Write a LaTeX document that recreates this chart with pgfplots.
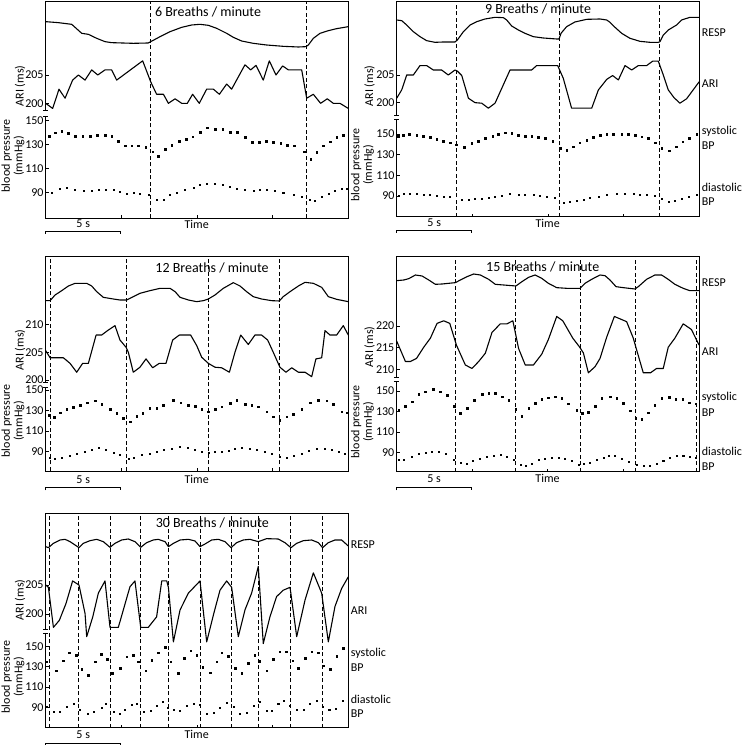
\documentclass[border=0pt]{standalone}
\usepackage{fontspec}
\setmainfont{Carlito}
\usepackage{pgfplots}
\pgfplotsset{compat=1.18}
\pgfplotsset{
  base/.style={scale only axis, width=302.6pt, anchor=north west, xmin=0, xmax=20, clip=false},
  frame/.style={base, ymin=0, ymax=1, ytick=\empty, xtick={5,10,15}, xticklabels={}, xtick pos=left,
    tick align=inside, major tick length=3pt, axis line style={line width=0.9pt},
    every tick/.style={black, line width=0.9pt}},
  resp/.style={base, hide axis},
  band/.style={base, hide x axis, axis line style={draw=none}, ytick pos=left, tick align=inside,
    major tick length=3pt, every tick/.style={black, line width=0.9pt},
    yticklabel style={font=\fontsize{12}{12}\selectfont, inner sep=2pt},
    /pgf/number format/assume math mode=true},
  curve/.style={black, line width=1.1pt, line join=round, no marks},
  sys/.style={black, only marks, mark=square*, mark size=0.75pt},
  dia/.style={black, only marks, mark=square*, mark size=0.55pt},
  dl/.style={black, line width=1pt, dash pattern=on 4pt off 2.5pt, no marks},
}
\tikzset{
  lab/.style={font=\fontsize{12}{13}\selectfont, inner sep=0pt},
  ttl/.style={font=\fontsize{14}{16}\selectfont, inner sep=0pt},
  bp/.style={font=\fontsize{12}{12.5}\selectfont, inner sep=0pt, rotate=90, align=center},
}
\begin{document}
\begin{tikzpicture}[x=1pt,y=1pt]
\useasboundingbox (0,0) rectangle (744,745);

% ================= Panel 1: 6 breaths/min =================
\begin{axis}[frame, at={(45.7pt,744pt)}, height=217.3pt]
\addplot[dl] coordinates {(6.94,0)(6.94,1)};
\addplot[dl] coordinates {(17.25,0)(17.25,1)};
\end{axis}
\begin{axis}[resp, at={(45.7pt,744pt)}, height=217.3pt, ymin=-454.9, ymax=197]
\addplot[curve] coordinates {(0,135)(0.84,132)(1.72,127)(2.38,100)(2.82,97)(3.37,85)(3.92,75)(4.36,72)(5.79,70)(6.78,71)(6.94,75)(7.56,90)(8.22,105)(8.99,118)(9.65,125)(10.20,127)(10.75,124)(11.30,115)(11.96,100)(12.40,88)(12.95,77)(13.72,70)(14.60,65)(15.70,61)(16.70,59)(17.20,60)(17.36,65)(17.69,85)(18.13,100)(18.68,108)(19.23,114)(20,120)};
\end{axis}
\begin{axis}[band, at={(45.7pt,744pt)}, height=217.3pt, ymin=179.71, ymax=218.06, ytick={200,205}]
\addplot[curve] coordinates {(0,200.0)(0.46,199.1)(0.88,202.5)(1.28,200.9)(1.78,204.1)(2.16,205.0)(2.60,204.1)(3.04,205.9)(3.44,205.0)(3.92,205.9)(4.36,205.9)(4.69,204.1)(6.41,207.5)(6.94,203.8)(7.33,201.6)(7.78,201.6)(8.11,200.0)(8.55,200.8)(8.99,200.0)(9.36,200.0)(9.71,201.6)(10.15,200.0)(10.64,202.5)(11.08,202.5)(11.48,201.6)(11.96,203.4)(12.29,202.5)(12.80,205.0)(13.17,206.8)(13.55,205.9)(13.90,206.7)(14.38,204.1)(14.78,207.5)(15.22,205.0)(15.66,206.6)(16.04,205.9)(16.92,205.9)(17.25,200.9)(17.69,201.6)(18.17,200.0)(18.61,200.8)(19.01,200.0)(19.45,200.0)(20,199.1)};
\end{axis}
\begin{axis}[band, at={(45.7pt,744pt)}, height=217.3pt, ymin=68.67, ymax=249.75, ytick={90,110,130,150}]
\addplot[sys] coordinates {(0.24,137.2)(0.62,140.0)(1.06,141.4)(1.50,139.4)(1.94,137.2)(2.44,137.2)(2.93,137.2)(3.41,138.1)(3.92,138.1)(4.36,137.2)(4.80,133.1)(5.24,129.2)(5.68,129.2)(6.12,129.2)(6.61,127.8)(7.07,124.2)(7.44,120.6)(7.89,126.4)(8.33,129.7)(8.83,133.1)(9.27,134.7)(9.71,136.7)(10.20,140.3)(10.68,144.2)(11.19,143.1)(11.70,143.1)(12.18,140.3)(12.67,140.3)(13.17,136.1)(13.66,131.9)(14.12,131.9)(14.56,133.1)(15.04,131.9)(15.53,131.1)(15.97,129.7)(16.41,129.2)(17.07,124.2)(17.51,117.8)(17.91,123.6)(18.35,129.2)(18.79,132.5)(19.23,136.1)(19.67,138.1)};
\addplot[dia] coordinates {(0.40,90)(0.95,93.6)(1.39,94.2)(1.94,92.8)(2.49,91.7)(3.04,91.7)(3.48,92.8)(3.99,92.8)(4.47,92.2)(4.91,90.8)(5.35,89.4)(5.79,90)(6.23,88.9)(6.78,88.1)(7.33,84.4)(7.78,84.4)(8.22,88.1)(8.66,90)(9.21,92.2)(9.76,94.4)(10.20,96.4)(10.64,97.8)(11.19,97.8)(11.70,96.9)(12.18,95)(12.62,93.3)(13.17,92.2)(13.72,91.7)(14.16,92.2)(14.60,92.2)(15.15,91.4)(15.70,90)(16.37,88.1)(16.92,86.7)(17.42,84.4)(17.80,83.3)(18.24,86.7)(18.68,89.4)(19.12,91.7)(19.56,93.1)(19.89,93.6)};
\end{axis}

% ================= Panel 2: 9 breaths/min =================
\begin{axis}[frame, at={(396.7pt,744pt)}, height=215.7pt]
\addplot[dl] coordinates {(3.92,0)(3.92,1)};
\addplot[dl] coordinates {(10.73,0)(10.73,1)};
\addplot[dl] coordinates {(17.36,0)(17.36,1)};
\end{axis}
\begin{axis}[resp, at={(396.7pt,744pt)}, height=215.7pt, ymin=-450.1, ymax=197]
\addplot[curve] coordinates {(0,140)(0.33,138)(0.66,125)(1.10,105)(1.54,90)(1.98,78)(2.53,73)(3.08,74)(3.85,74)(4.01,80)(4.41,105)(4.85,125)(5.29,135)(5.84,143)(6.50,148)(7.05,147)(7.27,140)(7.60,122)(8.04,110)(8.48,100)(9.03,90)(9.69,86)(10.57,83)(10.73,83)(10.86,100)(11.23,120)(11.78,134)(12.56,142)(13.44,143)(13.88,140)(14.10,133)(14.43,118)(14.87,100)(15.42,85)(16.08,76)(16.74,73)(17.29,73)(17.40,75)(17.62,95)(17.95,110)(18.50,125)(18.83,140)(19.38,148)(20,148)};
\end{axis}
\begin{axis}[band, at={(396.7pt,744pt)}, height=215.7pt, ymin=179.39, ymax=218.37, ytick={200,205}]
\addplot[curve] coordinates {(0,200.8)(0.33,202.3)(0.66,205)(1.10,205)(1.54,206.7)(1.98,206.7)(2.42,205.9)(2.97,205.9)(3.41,205)(3.85,205.9)(4.01,205.7)(4.30,204.9)(4.74,200.8)(5.18,200)(5.62,199.9)(6.06,199)(6.50,199.9)(7.49,205.9)(7.93,205.9)(8.48,205.9)(8.92,205.9)(9.25,206.7)(9.80,206.7)(10.64,206.7)(11.01,204.4)(11.56,199)(12.00,199)(12.89,199)(13.33,202.3)(13.88,204.2)(14.27,204.9)(14.65,204.1)(15.09,206.7)(15.53,205.9)(15.97,206.7)(16.52,206.7)(16.92,207.5)(17.29,207.5)(17.62,205)(17.95,202.3)(18.33,200.9)(18.72,199.9)(19.16,200.7)(20,203.8)};
\end{axis}
\begin{axis}[band, at={(396.7pt,744pt)}, height=215.7pt, ymin=69.97, ymax=278.7, ytick={90,110,130,150}]
\addplot[sys] coordinates {(0.11,148.1)(0.44,149)(0.84,150)(1.32,149)(1.76,148.1)(2.20,146.8)(2.64,144.8)(3.08,143.2)(3.52,141.6)(3.92,139.4)(4.47,137.1)(4.96,141)(5.40,143.2)(5.84,145.8)(6.34,148.1)(6.72,150)(7.16,151.3)(7.60,150.6)(8.04,149)(8.48,148.1)(8.92,148.1)(9.36,146.8)(9.80,145.8)(10.31,143.2)(10.79,136.1)(11.23,134.5)(11.67,137.7)(12.11,141.6)(12.56,144.2)(13.00,146.8)(13.44,149)(13.88,150)(14.32,149.7)(14.87,149.7)(15.31,149.7)(15.75,149)(16.19,147.4)(16.63,145.8)(17.07,141.6)(17.51,136.1)(18.02,133.9)(18.46,137.7)(18.90,142.6)(19.34,145.8)(19.82,150)};
\addplot[dia] coordinates {(0.11,90)(0.44,92.6)(0.88,92.6)(1.32,91.9)(1.76,91)(2.20,91)(2.64,90)(3.08,89.4)(3.52,89.4)(4.30,86.1)(4.74,86.8)(5.18,87.1)(5.62,87.7)(6.06,88.7)(6.50,89.4)(6.94,90.3)(7.49,91.9)(8.04,91)(8.48,91.6)(9.03,91)(9.47,90)(9.91,89.4)(10.46,88.7)(11.01,83.5)(11.45,84.5)(11.89,85.5)(12.33,86.8)(12.78,88.4)(13.33,89.4)(13.88,91)(14.54,91.9)(15.09,92.6)(15.64,91.9)(16.08,91.6)(16.52,91)(17.07,90)(17.51,87.7)(17.95,84.5)(18.39,85.2)(18.83,87.7)(19.27,89.4)(19.82,91.6)};
\end{axis}

% ================= Panel 3: 12 breaths/min =================
\begin{axis}[frame, at={(45.7pt,488.3pt)}, height=214.3pt]
\addplot[dl] coordinates {(0.29,0)(0.29,1)};
\addplot[dl] coordinates {(5.35,0)(5.35,1)};
\addplot[dl] coordinates {(10.75,0)(10.75,1)};
\addplot[dl] coordinates {(15.44,0)(15.44,1)};
\end{axis}
\begin{axis}[resp, at={(45.7pt,488.3pt)}, height=214.3pt, ymin=-463, ymax=179.9]
\addplot[curve] coordinates {(0,48)(0.29,48)(0.62,65)(1.06,78)(1.50,92)(1.94,100)(2.71,100)(3.04,92)(3.37,75)(3.81,58)(4.47,53)(4.91,50)(5.35,50)(5.79,60)(6.23,70)(6.89,78)(7.56,85)(8.22,85)(8.55,75)(8.88,58)(9.43,50)(9.98,45)(10.42,48)(10.75,53)(11.19,65)(11.74,85)(12.40,102)(12.84,92)(13.28,75)(13.72,60)(14.27,53)(14.93,48)(15.44,47)(15.70,60)(16.15,75)(16.70,92)(17.14,103)(17.69,100)(18.24,88)(18.68,60)(19.23,52)(20,45)};
\end{axis}
\begin{axis}[band, at={(45.7pt,488.3pt)}, height=214.3pt, ymin=183.6, ymax=222.22, ytick={200,205,210}]
\addplot[curve] coordinates {(0,205.3)(0.29,204.0)(0.84,204.0)(1.17,204.0)(1.61,203.0)(2.05,201.4)(2.44,203.0)(2.82,203.0)(3.33,208.1)(3.70,208.1)(4.14,209.0)(4.58,209.8)(4.91,207.2)(5.31,205.9)(5.46,205.0)(5.79,201.4)(6.23,202.3)(6.63,203.8)(7.07,202.2)(7.51,203.0)(7.95,203.0)(8.39,207.2)(8.83,208.1)(9.58,208.1)(9.98,206.2)(10.31,204.1)(10.75,203.0)(11.19,202.3)(11.63,202.2)(12.14,201.4)(12.51,205.0)(12.89,208.1)(13.39,206.4)(13.83,208.1)(14.27,208.1)(14.67,207.2)(15.04,205.0)(15.48,202.3)(15.88,201.4)(16.26,202.2)(16.70,201.4)(17.14,201.4)(17.58,200.6)(17.86,203.8)(18.24,204.0)(18.46,208.9)(18.79,208.1)(19.23,208.1)(19.67,209.8)(20,208.1)};
\end{axis}
\begin{axis}[band, at={(45.7pt,488.3pt)}, height=214.3pt, ymin=71.21, ymax=279.67, ytick={90,110,130,150}]
\addplot[sys] coordinates {(0.24,125.7)(0.55,123.4)(0.95,127.9)(1.39,131.2)(1.83,133.2)(2.27,135.4)(2.75,137.7)(3.26,139.6)(3.70,136.4)(4.25,131.2)(4.69,127.3)(5.13,122.4)(5.57,119.2)(6.01,124.7)(6.41,127.3)(6.89,132.2)(7.33,132.2)(7.78,135.4)(8.44,140.3)(8.92,137.7)(9.43,135.4)(9.87,134.4)(10.31,131.2)(10.75,128.9)(11.19,131.2)(11.63,133.8)(12.18,137.1)(12.62,140.3)(13.17,136.4)(13.61,135.4)(14.05,133.8)(14.60,128.9)(15.04,124)(15.48,120.8)(15.92,124)(16.37,126.7)(16.92,131.2)(17.47,137.7)(18.02,140.3)(18.57,139.6)(19.01,136.4)(19.56,128.9)(19.89,127.9)};
\addplot[dia] coordinates {(0.24,84.5)(0.62,83.5)(1.06,84.5)(1.61,85.8)(2.05,87.7)(2.60,90)(3.04,92.3)(3.48,94.3)(3.99,92.3)(4.47,89)(4.91,86.8)(5.46,83.5)(5.84,84.5)(6.34,86.8)(6.85,88.4)(7.33,90)(7.82,91.6)(8.33,93.3)(8.88,94.8)(9.36,94.3)(9.87,92.3)(10.31,90)(10.75,89)(11.19,90)(11.63,90)(12.07,90.7)(12.51,93.3)(12.95,94.3)(13.50,93.3)(13.94,92.3)(14.49,90)(14.93,87.7)(15.48,85.1)(15.92,84.5)(16.37,85.8)(16.92,88.4)(17.36,90.7)(17.91,92.6)(18.46,93.3)(18.90,92.3)(19.34,90)(19.78,87.7)};
\end{axis}

% ================= Panel 4: 15 breaths/min =================
\begin{axis}[frame, at={(396.5pt,489pt)}, height=215.7pt]
\addplot[dl] coordinates {(3.89,0)(3.89,1)};
\addplot[dl] coordinates {(7.89,0)(7.89,1)};
\addplot[dl] coordinates {(12.13,0)(12.13,1)};
\addplot[dl] coordinates {(15.82,0)(15.82,1)};
\addplot[dl] coordinates {(19.82,0)(19.82,1)};
\end{axis}
\begin{axis}[resp, at={(396.5pt,489pt)}, height=215.7pt, ymin=-465.1, ymax=182]
\addplot[curve] coordinates {(0,108)(0.48,110)(0.81,114)(1.25,125)(1.69,122)(2.13,110)(2.57,97)(3.01,98)(3.45,100)(3.89,102)(4.22,110)(4.66,120)(5.10,128)(5.54,125)(6.09,112)(6.53,97)(7.08,95)(7.89,92)(8.29,105)(8.73,118)(9.16,125)(9.60,115)(10.04,100)(10.59,87)(11.25,85)(12.13,85)(12.46,100)(12.90,112)(13.45,125)(13.78,123)(14.11,110)(14.51,90)(14.99,87)(15.76,83)(15.98,90)(16.53,112)(17.08,125)(17.52,125)(17.96,112)(18.40,97)(18.95,85)(19.38,78)(20,78)};
\end{axis}
\begin{axis}[band, at={(396.5pt,489pt)}, height=215.7pt, ymin=186.38, ymax=236.15, ytick={210,215,220}]
\addplot[curve] coordinates {(0,216.6)(0.26,214.5)(0.59,211.8)(0.92,211.8)(1.32,212.5)(1.80,215.1)(2.24,217.2)(2.68,220.6)(3.12,221.2)(3.52,220.6)(3.96,215.6)(4.55,211)(4.99,210.2)(5.43,211.8)(5.87,213.7)(6.31,218.5)(6.86,220.5)(7.30,220.5)(7.69,221.2)(8.07,214.8)(8.51,211)(9.05,211)(9.60,213.5)(10.04,216.9)(10.59,222.2)(10.99,221.2)(11.65,217.2)(12.09,215.2)(12.35,213.8)(12.68,209.2)(13.12,210.6)(13.45,212.5)(13.89,217.4)(14.40,222.2)(15.21,221)(15.65,217.2)(15.87,214.5)(16.31,209.2)(16.79,209.2)(17.19,210.2)(17.63,210.2)(17.96,215.1)(18.40,217.2)(18.95,220.5)(19.49,219.2)(20,215.6)};
\end{axis}
\begin{axis}[band, at={(396.5pt,489pt)}, height=215.7pt, ymin=71.48, ymax=281.35, ytick={90,110,130,150}]
\addplot[sys] coordinates {(0.15,131.5)(0.59,135.4)(1.03,139.6)(1.47,146.8)(1.91,149.4)(2.42,151.6)(2.90,149.4)(3.34,146.1)(3.82,135.4)(4.22,128.3)(4.66,133.1)(5.14,141.2)(5.65,147.1)(6.09,147.7)(6.53,147.7)(6.97,144.5)(7.41,141.2)(7.89,132.2)(8.29,125.7)(8.73,133.1)(9.16,138)(9.60,141.9)(10.04,143.5)(10.48,144.5)(10.92,142.9)(11.36,137.4)(11.91,131.5)(12.29,128.3)(12.68,129.2)(13.12,135.4)(13.56,142.9)(14.11,144.5)(14.55,142.9)(14.99,138)(15.43,130.9)(15.82,123.4)(16.20,122.4)(16.64,128.9)(17.08,136.4)(17.52,142.9)(18.02,143.8)(18.46,141.9)(18.90,141.9)(19.34,138.6)(19.78,137.4)};
\addplot[dia] coordinates {(0.15,82.9)(0.48,83.5)(1.03,86.1)(1.47,88.7)(1.91,90)(2.35,91)(2.79,91)(3.23,89.4)(3.78,83.5)(4.22,80.3)(4.66,79.6)(5.05,82.2)(5.49,84.5)(5.98,86.1)(6.42,86.8)(6.86,87.7)(7.30,86.1)(7.74,83.5)(8.18,78)(8.51,77.4)(8.95,79.6)(9.38,82.9)(9.82,84.5)(10.26,85.5)(10.70,85.5)(11.14,84.5)(11.58,82.2)(12.02,78)(12.40,79)(12.79,80.3)(13.23,82.9)(13.67,85.5)(14.00,87.1)(14.44,86.8)(14.88,84.5)(15.32,81.2)(15.87,78)(16.31,77)(16.75,77.4)(17.19,79.6)(17.63,82.2)(18.07,85.5)(18.51,86.8)(18.95,86.8)(19.38,86.1)(19.78,85.5)};
\end{axis}

% ================= Panel 5: 30 breaths/min =================
\begin{axis}[frame, at={(45.7pt,231.7pt)}, height=214.4pt]
\addplot[dl] coordinates {(0.22,0)(0.22,1)};
\addplot[dl] coordinates {(2.20,0)(2.20,1)};
\addplot[dl] coordinates {(4.25,0)(4.25,1)};
\addplot[dl] coordinates {(6.28,0)(6.28,1)};
\addplot[dl] coordinates {(8.11,0)(8.11,1)};
\addplot[dl] coordinates {(10.20,0)(10.20,1)};
\addplot[dl] coordinates {(12.25,0)(12.25,1)};
\addplot[dl] coordinates {(14.05,0)(14.05,1)};
\addplot[dl] coordinates {(16.21,0)(16.21,1)};
\addplot[dl] coordinates {(18.30,0)(18.30,1)};
\end{axis}
\begin{axis}[resp, at={(45.7pt,231.7pt)}, height=214.4pt, ymin=-483.1, ymax=160.1]
\addplot[curve] coordinates {(0,60)(0.18,57)(0.51,70)(0.95,80)(1.28,82)(1.61,75)(1.94,65)(2.20,57)(2.49,70)(2.93,78)(3.37,82)(3.81,75)(4.25,58)(4.58,70)(5.02,80)(5.46,83)(5.90,75)(6.28,58)(6.67,72)(7.11,80)(7.44,82)(7.89,75)(8.11,60)(8.44,70)(8.88,80)(9.43,82)(9.87,77)(10.20,60)(10.53,68)(10.97,80)(11.41,82)(11.85,75)(12.25,57)(12.62,72)(13.06,80)(13.50,82)(14.05,75)(14.60,84)(15.37,83)(15.81,72)(16.21,57)(16.59,70)(17.03,78)(17.58,80)(18.02,72)(18.30,57)(18.68,72)(19.12,80)(19.56,80)(20,62)};
\end{axis}
\begin{axis}[band, at={(45.7pt,231.7pt)}, height=214.4pt, ymin=180.4, ymax=217.36, ytick={200,205}]
\addplot[curve] coordinates {(0,205)(0.18,204.6)(0.51,197.7)(0.90,198.9)(1.34,201.8)(1.78,205.7)(2.20,205)(2.60,200.1)(2.71,196.1)(3.11,199.5)(3.48,203.6)(3.92,205.7)(4.25,197.7)(4.80,197.7)(5.13,200.7)(5.57,204.7)(5.90,205.7)(6.28,197.7)(6.78,197.7)(7.33,199.5)(7.67,205.7)(8.00,205.7)(8.11,204.6)(8.44,195.2)(8.88,200.7)(9.43,203.6)(10.20,205.7)(10.64,195.2)(11.08,199.8)(11.52,204.1)(11.96,205.7)(12.29,204.6)(12.73,196.1)(13.17,200.7)(13.61,203.6)(14.05,208.2)(14.38,194.9)(14.82,199.5)(15.26,203)(15.70,204.1)(16.15,204.6)(16.59,196.1)(17.14,202.4)(17.69,207.1)(18.24,203.6)(18.68,195.2)(19.12,201.3)(19.56,204.4)(20,206.4)};
\end{axis}
\begin{axis}[band, at={(45.7pt,231.7pt)}, height=214.4pt, ymin=69.89, ymax=281.93, ytick={90,110,130,150}]
\addplot[sys] coordinates {(0.07,135.2)(0.68,126.3)(1.17,136.2)(1.56,144.1)(2.00,141.8)(2.38,127.6)(2.82,122)(3.26,135.2)(3.66,142.4)(4.07,137.5)(4.41,123.6)(4.91,128.6)(5.35,140.1)(5.79,141.8)(6.12,135.2)(6.61,126.3)(7.00,136.8)(7.44,144.1)(7.89,149.3)(8.26,135.2)(8.77,123.6)(9.14,138.5)(9.58,146)(9.98,141.8)(10.37,129.6)(10.86,124.3)(11.30,135.2)(11.63,144.1)(12.07,140.8)(12.51,128.6)(12.95,123.6)(13.39,133.5)(13.83,141.8)(14.16,135.8)(14.60,126.3)(15.04,137.5)(15.48,145.1)(15.88,145.1)(16.32,136.2)(16.70,128.6)(17.14,138.5)(17.58,145.1)(18.02,144.1)(18.35,131.2)(18.79,127.6)(19.23,140.8)(19.67,148.4)};
\addplot[dia] coordinates {(0.07,90.7)(0.51,85.7)(0.95,85.7)(1.39,90.7)(1.83,93.3)(2.27,87.4)(2.75,84.1)(3.15,85.7)(3.70,90)(3.99,94)(4.47,85.7)(4.87,84.1)(5.24,88)(5.68,92.3)(6.01,93.3)(6.50,85.7)(6.94,86.7)(7.33,91.3)(7.71,95.6)(8.04,90)(8.44,87.4)(8.88,86.7)(9.32,91.3)(9.76,94)(10.15,92.3)(10.64,84.1)(11.08,84.7)(11.52,90)(11.96,94.6)(12.40,90.7)(12.84,84.1)(13.28,84.7)(13.72,91.3)(14.16,95.6)(14.60,86.7)(14.93,86.7)(15.37,93.3)(15.75,96.6)(16.15,91.3)(16.59,88)(17.03,87.4)(17.47,94)(17.91,96.6)(18.30,90.7)(18.74,87.4)(19.19,89)(19.63,96.6)};
\end{axis}

% ================= axis breaks =================
\foreach \lx/\ya/\yb in {45.7/635/629, 396.7/629.5/626, 45.7/362.3/357.7, 396.5/367.5/363.5, 45.7/115.5/112}{
  \fill[white] (\lx-1.3,\yb+0.45) rectangle (\lx+1.3,\ya-0.45);
  \draw[line width=0.9pt] (\lx-2.6,\ya) -- (\lx+2.6,\ya);
  \draw[line width=0.9pt] (\lx-2.6,\yb) -- (\lx+2.6,\yb);
}

% ================= scale bars, Time labels =================
\foreach \lx/\by/\ty in {45.7/514/521, 396.7/515/522, 45.7/257.7/265.7, 396.5/257.7/266.3, 45.7/1.7/10.7}{
  \draw[line width=0.9pt] (\lx,\by-3) -- (\lx,\by) -- (\lx+75,\by) -- (\lx+75,\by-3);
  \node[lab] at (\lx+37.5,\ty) {5 s};
  \node[lab] at (\lx+151,\ty) {Time};
}

% ================= titles =================
\node[ttl] at (208,733) {6 Breaths / minute};
\node[ttl] at (538,736) {9 Breaths / minute};
\node[ttl] at (212,476.7) {12 Breaths / minute};
\node[ttl] at (542.7,478.3) {15 Breaths / minute};
\node[ttl] at (212.3,221.7) {30 Breaths / minute};

% ================= left y labels =================
\node[lab, rotate=90] at (20,659) {ARI (ms)};
\node[bp] at (13,589) {blood pressure\\(mmHg)};
\node[lab, rotate=90] at (369.5,659) {ARI (ms)};
\node[bp] at (362.5,580) {blood pressure\\(mmHg)};
\node[lab, rotate=90] at (20,395) {ARI (ms)};
\node[bp] at (13,324) {blood pressure\\(mmHg)};
\node[lab, rotate=90] at (369.5,398) {ARI (ms)};
\node[bp] at (362.5,323) {blood pressure\\(mmHg)};
\node[lab, rotate=90] at (20,145) {ARI (ms)};
\node[bp] at (13,68) {blood pressure\\(mmHg)};

% ================= right labels =================
\foreach \rx/\a/\b/\c/\d/\e/\f in {701.7/712/661/614/599/558/543, 701.7/462.7/393.3/347.3/332.7/293.3/278.3, 350.7/200/134/91.7/77.3/45.7/31.7}{
  \node[lab, anchor=west] at (\rx,\a) {RESP};
  \node[lab, anchor=west] at (\rx,\b) {ARI};
  \node[lab, anchor=west] at (\rx,\c) {systolic};
  \node[lab, anchor=west] at (\rx,\d) {BP};
  \node[lab, anchor=west] at (\rx,\e) {diastolic};
  \node[lab, anchor=west] at (\rx,\f) {BP};
}
\end{tikzpicture}
\end{document}
